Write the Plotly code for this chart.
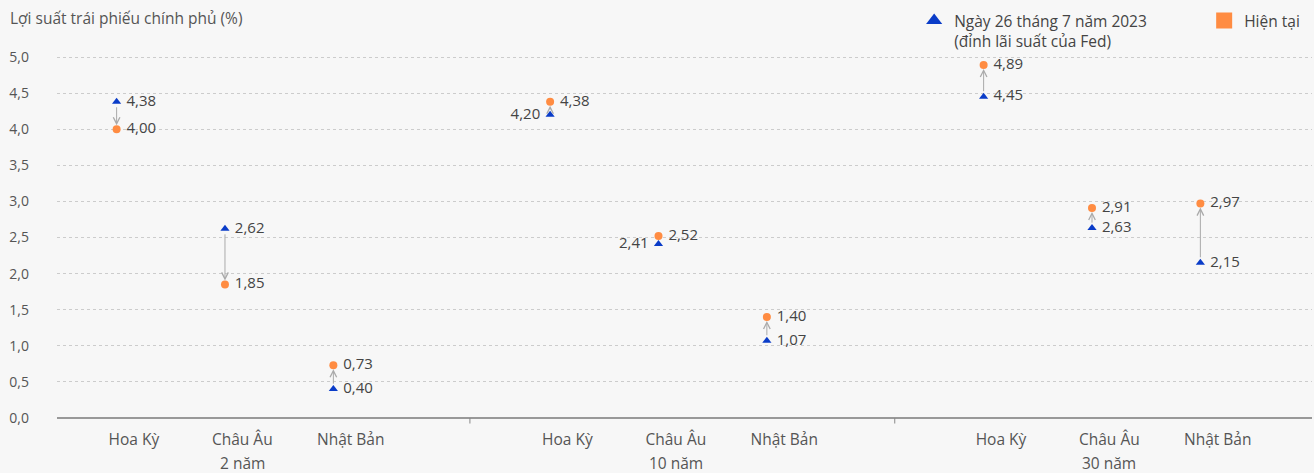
import plotly.graph_objects as go

groups = ["2 năm", "10 năm", "30 năm"]
countries = ["Hoa Kỳ", "Châu Âu", "Nhật Bản"]
fed_peak = [[4.38, 2.62, 0.40], [4.20, 2.41, 1.07], [4.45, 2.63, 2.15]]
current = [[4.00, 1.85, 0.73], [4.38, 2.52, 1.40], [4.89, 2.91, 2.97]]
fed_label_side = [["right", "right", "right"], ["left", "left", "right"], ["right", "right", "right"]]

y_ticks = [0, 0.5, 1, 1.5, 2, 2.5, 3, 3.5, 4, 4.5, 5]

BLUE = "#0A3CC8"
ORANGE = "#FF8C42"
TXT = "#444444"
LBL = "#555555"
FONT = "Open Sans"

TOP, BOT = 50, 55
PH = 473 - TOP - BOT


def fmt(v):
    return f"{v:.2f}".replace(".", ",")


xs, yf, yc, tf, tc, posf = [], [], [], [], [], []
for g in range(3):
    for c in range(3):
        x = g * 4 + c
        xs.append(x)
        yf.append(fed_peak[g][c])
        yc.append(current[g][c])
        side = fed_label_side[g][c]
        tf.append(" " + fmt(fed_peak[g][c]) if side == "right" else fmt(fed_peak[g][c]) + " ")
        tc.append(" " + fmt(current[g][c]))
        posf.append("middle " + side)

fig = go.Figure()

fig.add_trace(go.Scatter(
    x=xs, y=yf, mode="markers+text", text=tf, textposition=posf,
    marker=dict(symbol="triangle-up", size=8, color=BLUE),
    textfont=dict(size=15, color=TXT, family=FONT), showlegend=False, hoverinfo="skip"))
fig.add_trace(go.Scatter(
    x=xs, y=yc, mode="markers+text", text=tc, textposition="middle right",
    marker=dict(symbol="circle", size=8, color=ORANGE),
    textfont=dict(size=15, color=TXT, family=FONT), showlegend=False, hoverinfo="skip"))

# legend-only entries
fig.add_trace(go.Scatter(x=[None], y=[None], mode="markers",
                         name="Ngày 26 tháng 7 năm 2023<br>(đỉnh lãi suất của Fed)",
                         marker=dict(symbol="triangle-up", size=14, color=BLUE)))
fig.add_trace(go.Scatter(x=[None], y=[None], mode="markers", name="Hiện tại",
                         marker=dict(symbol="square", size=16, color=ORANGE)))

for x, a, b in zip(xs, yf, yc):
    fig.add_annotation(x=x, y=b, ax=x, ay=a, axref="x", ayref="y", xref="x", yref="y",
                       text="", showarrow=True, arrowhead=5, arrowsize=1.3, arrowwidth=1,
                       arrowcolor="#AAAAAA", standoff=4, startstandoff=4)

# category tick labels
tickvals = [x + 0.16 for x in xs]
ticktext = countries * 3

for g, name in enumerate(groups):
    fig.add_annotation(x=g * 4 + 1 + 0.16, y=-(463 - (473 - BOT)) / PH, xref="x", yref="paper",
                       text=name, showarrow=False, font=dict(size=15.5, color=LBL, family=FONT),
                       yanchor="middle")

for sx in [3.26, 7.18]:
    fig.add_shape(type="line", x0=sx, x1=sx, y0=0, y1=-0.015, xref="x", yref="paper",
                  line=dict(color="#888888", width=1))

fig.add_annotation(x=(8 - 57) / 1255, y=1 + (TOP - 18) / PH, xref="paper", yref="paper",
                   xanchor="left", yanchor="middle",
                   text="Lợi suất trái phiếu chính phủ (%)",
                   showarrow=False, font=dict(size=15.5, color=LBL, family=FONT))

fig.update_layout(
    width=1314, height=473,
    margin=dict(l=57, r=2, t=TOP, b=BOT, autoexpand=False),
    paper_bgcolor="#F7F7F7", plot_bgcolor="#F7F7F7",
    font=dict(family=FONT, color=TXT),
    separators=",.",
    xaxis=dict(range=[-0.55, 11.03], tickvals=tickvals, ticktext=ticktext,
               showgrid=False, zeroline=False, showline=False, ticks="",
               ticklabelstandoff=10,
               tickfont=dict(size=15.5, color=LBL), fixedrange=True),
    yaxis=dict(range=[0, 5.097], tickvals=y_ticks, tickformat=".1f",
               showgrid=True, gridcolor="#CCCCCC", griddash="dot", gridwidth=1,
               zeroline=True, zerolinecolor="#999999", zerolinewidth=2,
               showline=False, ticks="", ticklabelstandoff=27,
               tickfont=dict(size=14, color=LBL), fixedrange=True),
    legend=dict(orientation="h", x=0.683, xanchor="left", y=1 + (TOP - 4) / PH, yanchor="top",
                font=dict(size=15.5, color=TXT, family=FONT), bgcolor="rgba(0,0,0,0)",
                valign="top", itemsizing="trace", entrywidth=245, entrywidthmode="pixels"),
)

fig.write_html("out.html")
